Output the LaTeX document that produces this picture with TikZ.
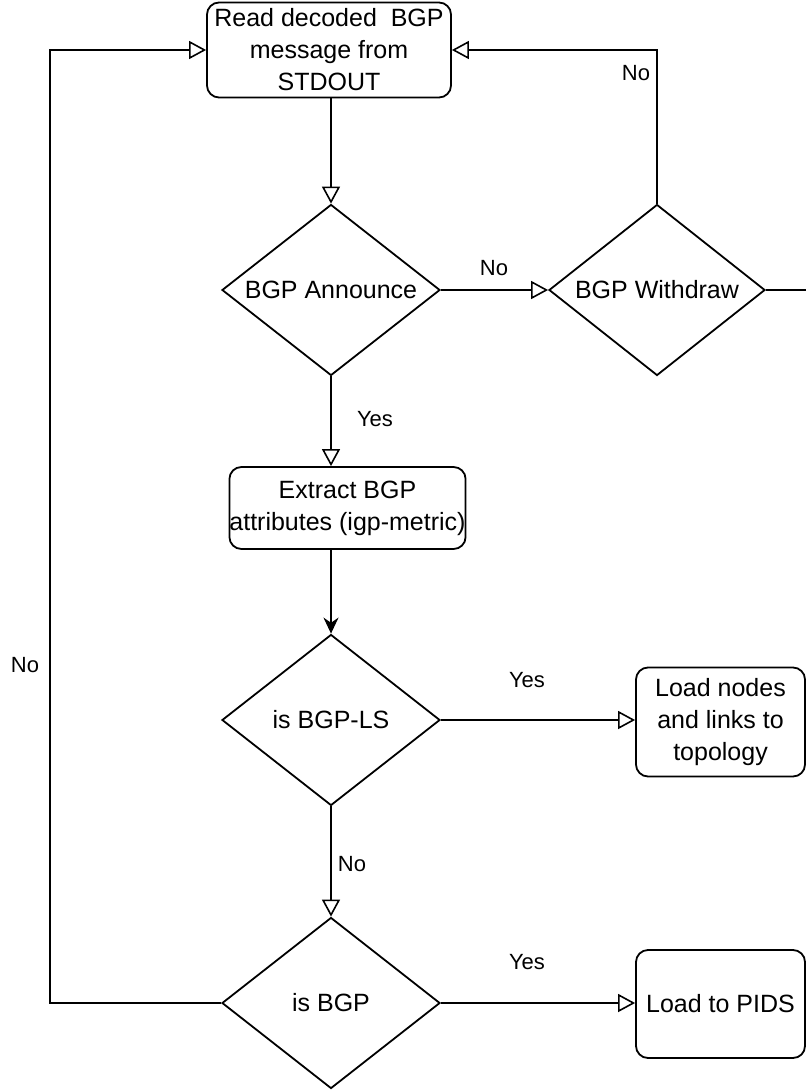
\documentclass[tikz,border=0pt]{standalone}
\usepackage{fontspec}
\setmainfont{Liberation Sans}
\usetikzlibrary{shapes.geometric,arrows.meta}
\begin{document}
\begin{tikzpicture}[x=1pt,y=-1pt,
  every node/.style={font=\fontsize{25}{32}\selectfont},
  box/.style={draw, line width=1.8pt, rounded corners=12pt, align=center, inner sep=0pt},
  dec/.style={draw, diamond, line width=1.8pt, minimum width=218pt, minimum height=171pt, inner sep=0pt, aspect=1.28},
  flow/.style={line width=1.8pt, -{Triangle[open, length=17pt, width=18pt, line width=1.6pt]}},
  solidflow/.style={line width=1.8pt, -{Stealth[length=16pt, width=15pt]}},
  plain/.style={line width=1.8pt},
  lbl/.style={font=\fontsize{22}{26}\selectfont, inner sep=0pt}
]
\useasboundingbox (0,0) rectangle (806,1091);

% nodes
\node[box, minimum width=244pt, minimum height=95pt] (read) at (329,50) {Read decoded~ BGP\\message from\\STDOUT};
\node[dec] (ann) at (331,290) {BGP Announce};
\node[dec, minimum width=216pt] (wd) at (657,290) {BGP Withdraw};
\node[box, minimum width=229pt, minimum height=82pt] (ext) at (347.5,508) {Extract BGP\\attributes (igp-metric)};
\node[dec] (ls) at (331,720) {is BGP-LS};
\node[box, minimum width=169pt, minimum height=109pt] (topo) at (720.5,722) {Load nodes\\and links to\\topology};
\node[dec] (isbgp) at (331,1003) {is BGP};
\node[box, minimum width=169pt, minimum height=108pt] (pids) at (720.5,1004) {Load to PIDS};

% helper coordinates
\coordinate (lb) at (50,1003);
\coordinate (lt) at (50,50);
\coordinate (re) at (806,290);

% connectors
\draw[flow] (read.south -| ann.north) -- (ann.north);
\draw[flow] (ann.east) -- (wd.west);
\draw[flow] (wd.north) |- (read.east);
\draw[plain] (wd.east) -- (re);
\draw[flow] (ann.south) -- (ann.south |- ext.north);
\draw[solidflow] (ext.south -| ls.north) -- (ls.north);
\draw[flow] (ls.east) -- (ls.east -| topo.west);
\draw[flow] (ls.south) -- (isbgp.north);
\draw[flow] (isbgp.east) -- (isbgp.east -| pids.west);
\draw[flow] (isbgp.west) -- (lb) -- (lt) -- (read.west);

% labels
\node[lbl] (l1) at (494,268) {No};
\node[lbl] (l2) at (636,73) {No};
\node[lbl] (l3) at (375,419) {Yes};
\node[lbl] (l4) at (527,680) {Yes};
\node[lbl] (l5) at (352,864) {No};
\node[lbl] (l6) at (527,962) {Yes};
\node[lbl] (l7) at (25,665) {No};
\end{tikzpicture}
\end{document}
